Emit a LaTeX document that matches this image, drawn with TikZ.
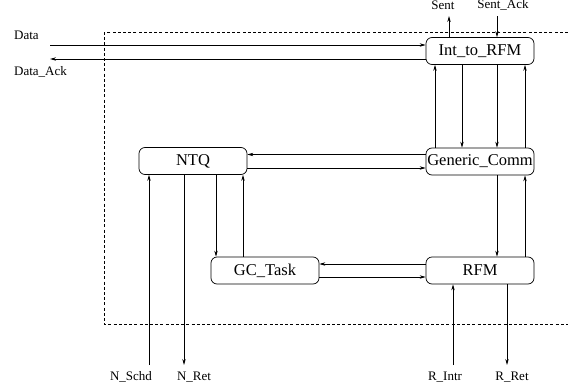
\documentclass[tikz,border=0pt]{standalone}
\usepackage{fontspec}
\setmainfont{Liberation Serif}
\usetikzlibrary{arrows.meta}

\begin{document}
\begin{tikzpicture}[x=1pt,y=-1pt,
    module/.style={draw,rounded corners=6pt,line width=.7pt,
      minimum width=108pt,minimum height=27pt,inner sep=0pt,
      font=\fontsize{16.5}{18}\selectfont},
    sig/.style={-{Stealth[length=6pt,width=3.4pt]},line width=.7pt},
    lbl/.style={font=\fontsize{13}{15}\selectfont,inner sep=0pt}]
    \useasboundingbox (0,0) rectangle (568,391);
    \clip (0,0) rectangle (568,391);
    \draw[dash pattern=on 3pt off 2.2pt,line width=.6pt] (104,32) rectangle (590,324);
    % the five modules
    \node[module] (itr) at (480,51) {Int\_to\_RFM};
    \node[module] (gen) at (480,161.5) {Generic\_Comm};
    \node[module] (ntq) at (193,161) {NTQ};
    \node[module] (gct) at (265,270.5) {GC\_Task};
    \node[module] (rfm) at (480,270.5) {RFM};
    % outside signals
    \node[lbl,anchor=west] (data) at (14,35) {Data};
    \node[lbl,anchor=west] (dack) at (14,72) {Data\_Ack};
    \node[lbl] (sent) at (443,5) {Sent};
    \node[lbl] (sack) at (503,5) {Sent\_Ack};
    \node[lbl] (nschd) at (131,377) {N\_Schd};
    \node[lbl] (nret) at (194,377) {N\_Ret};
    \node[lbl] (rintr) at (445,377) {R\_Intr};
    \node[lbl] (rret) at (512,377) {R\_Ret};
    \coordinate (datain) at (50,45);
    \coordinate (dackout) at (50,59);
    \coordinate (sentend) at (449,16);
    \coordinate (sackend) at (497,16);
    \coordinate (nschdend) at (149,365);
    \coordinate (nretend) at (184,365);
    \coordinate (rintrend) at (453,365);
    \coordinate (rretend) at (507,365);
    \draw[sig] (datain) -- (datain -| itr.west);
    \draw[sig] (dackout -| itr.west) -- (dackout);
    \draw[sig] (sentend |- itr.north) -- (sentend);
    \draw[sig] (sackend) -- (sackend |- itr.north);
    % Int_to_RFM <-> Generic_Comm
    \draw[sig] ([xshift=-45pt]gen.north) -- ([xshift=-45pt]itr.south);
    \draw[sig] ([xshift=-18pt]itr.south) -- ([xshift=-18pt]gen.north);
    \draw[sig] ([xshift=17pt]itr.south) -- ([xshift=17pt]gen.north);
    \draw[sig] ([xshift=45pt]gen.north) -- ([xshift=45pt]itr.south);
    % Generic_Comm <-> NTQ
    \draw[sig] ([yshift=7pt]gen.west) -- ([yshift=7pt]gen.west -| ntq.east);
    \draw[sig] ([yshift=-7pt]ntq.east) -- ([yshift=-7pt]ntq.east -| gen.west);
    % Generic_Comm <-> RFM
    \draw[sig] ([xshift=17pt]gen.south) -- ([xshift=17pt]rfm.north);
    \draw[sig] ([xshift=45pt]rfm.north) -- ([xshift=45pt]gen.south);
    % NTQ <-> GC_Task
    \draw[sig] ([xshift=23pt]ntq.south) -- ([xshift=23pt]ntq.south |- gct.north);
    \draw[sig] ([xshift=50pt]ntq.south |- gct.north) -- ([xshift=50pt]ntq.south);
    % RFM <-> GC_Task
    \draw[sig] ([yshift=6.5pt]rfm.west) -- ([yshift=6.5pt]rfm.west -| gct.east);
    \draw[sig] ([yshift=-6.5pt]gct.east) -- ([yshift=-6.5pt]gct.east -| rfm.west);
    % NTQ and RFM to the outside
    \draw[sig] (nschdend) -- (nschdend |- ntq.south);
    \draw[sig] (nretend |- ntq.south) -- (nretend);
    \draw[sig] (rintrend) -- (rintrend |- rfm.south);
    \draw[sig] (rretend |- rfm.south) -- (rretend);
\end{tikzpicture}
\end{document}
